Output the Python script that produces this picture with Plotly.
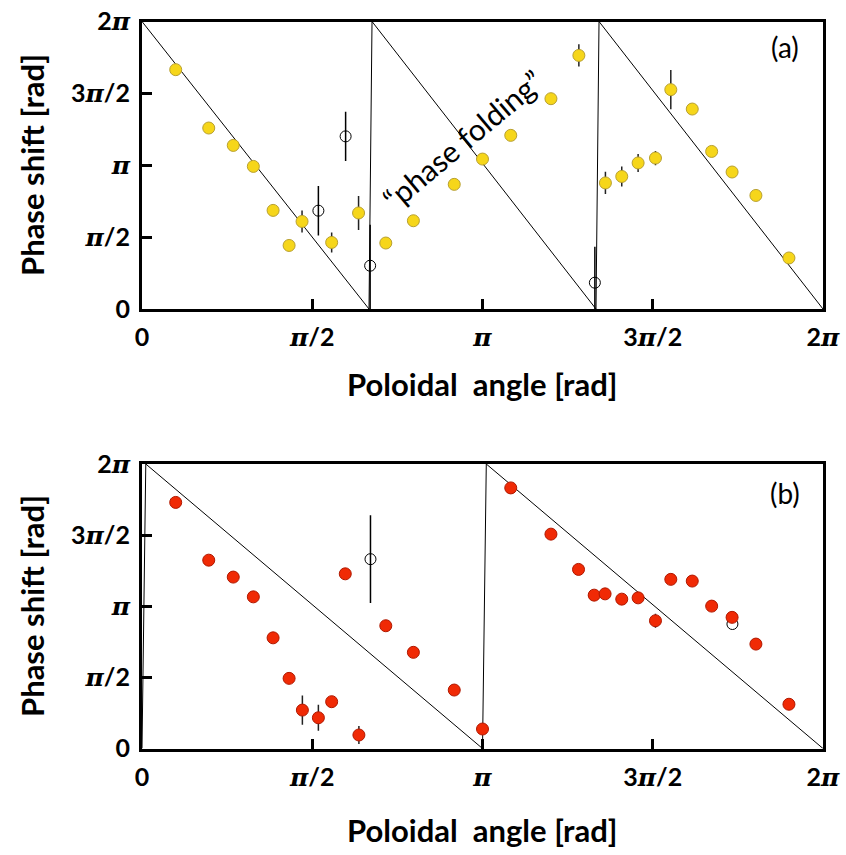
import numpy as np
import plotly.graph_objects as go

PI = np.pi

# ---------------- data (angles in units of pi) ----------------
# Panel (a): filled (yellow) points
a_theta = [0.099, 0.196, 0.268, 0.327, 0.385, 0.432, 0.470, 0.557, 0.636, 0.716,
           0.797, 0.917, 1.000, 1.083, 1.201, 1.283, 1.361, 1.409, 1.457, 1.508,
           1.553, 1.616, 1.673, 1.733, 1.803, 1.900]
a_phase = [1.665, 1.259, 1.138, 0.992, 0.686, 0.442, 0.609, 0.463, 0.668, 0.459,
           0.614, 0.867, 1.043, 1.208, 1.463, 1.764, 0.877, 0.922, 1.016, 1.050,
           1.526, 1.391, 1.096, 0.953, 0.790, 0.355]
a_err = [0, 0, 0, 0, 0, 0, 0.077, 0.070, 0.118, 0,
         0, 0, 0, 0, 0, 0.077, 0.077, 0.070, 0.063, 0.050,
         0.137, 0, 0, 0, 0, 0]
# Panel (a): open points
a_open_theta = [0.518, 0.598, 0.670, 1.330]
a_open_phase = [0.684, 1.201, 0.301, 0.183]
a_open_err_plus = [0.172, 0.172, 0.285, 0.250]
a_open_err_minus = [0.172, 0.172, 0.301, 0.183]

# Panel (b): filled (red) points
b_theta = [0.099, 0.196, 0.268, 0.327, 0.385, 0.432, 0.471, 0.518, 0.557, 0.597,
           0.637, 0.716, 0.797, 0.917, 1.000, 1.083, 1.201, 1.282, 1.328, 1.360,
           1.409, 1.457, 1.508, 1.553, 1.616, 1.673, 1.733, 1.803, 1.900]
b_phase = [1.730, 1.324, 1.205, 1.066, 0.778, 0.493, 0.270, 0.216, 0.329, 1.228,
           0.095, 0.863, 0.676, 0.411, 0.137, 1.832, 1.507, 1.259, 1.078, 1.087,
           1.050, 1.059, 0.898, 1.189, 1.177, 1.001, 0.922, 0.734, 0.311]
b_err = [0, 0, 0, 0, 0, 0, 0.103, 0.091, 0, 0,
         0.063, 0, 0, 0, 0, 0, 0, 0, 0, 0,
         0, 0, 0.050, 0, 0, 0, 0, 0, 0]
# Panel (b): open points
b_open_theta = [0.671, 1.734]
b_open_phase = [1.331, 0.875]
b_open_err = [0.309, 0]

# Model sawtooth: phase = (-m * theta) mod 2pi
m_a = 3
m_b = 2
tick_vals_pi = [0, 0.5, 1, 1.5, 2]
PI_HTML = "<span style='font-family:DejaVu Serif;font-style:italic;font-weight:bold'>π</span>"
tick_text = ["0", PI_HTML + "/2", PI_HTML, "3" + PI_HTML + "/2", "2" + PI_HTML]


def sawtooth(m, eps, start_jump):
    xs, ys = [], []
    if start_jump:
        xs += [0.0]
        ys += [0.0]
    for k in range(m):
        x0 = k * 2 * PI / m + (eps if (k > 0 or start_jump) else 0.0)
        x1 = (k + 1) * 2 * PI / m
        xs += [x0, x1]
        ys += [2 * PI, 0.0]
    return xs, ys


fig = go.Figure()

def add_panel(row_suffix, theta, phase, err, color, edge, open_t, open_p, open_ep, open_em,
              m, eps, start_jump):
    xa = "x" + row_suffix
    ya = "y" + row_suffix
    lx, ly = sawtooth(m, eps, start_jump)
    fig.add_trace(go.Scatter(x=lx, y=ly, mode="lines", line=dict(color="black", width=1),
                             xaxis=xa, yaxis=ya, showlegend=False, hoverinfo="skip"))
    fig.add_trace(go.Scatter(
        x=[t * PI for t in open_t], y=[p * PI for p in open_p], mode="markers",
        marker=dict(symbol="circle-open", size=11, color="black", line=dict(width=1)),
        error_y=dict(type="data", array=[e * PI for e in open_ep],
                     arrayminus=[e * PI for e in open_em], color="black",
                     thickness=1.5, width=0),
        xaxis=xa, yaxis=ya, showlegend=False, cliponaxis=False))
    fig.add_trace(go.Scatter(
        x=[t * PI for t in theta], y=[p * PI for p in phase], mode="markers",
        marker=dict(symbol="circle", size=12, color=color, line=dict(color=edge, width=1)),
        error_y=dict(type="data", array=[e * PI for e in err], color="#222222",
                     thickness=1.5, width=0),
        xaxis=xa, yaxis=ya, showlegend=False, cliponaxis=False))


add_panel("", a_theta, a_phase, a_err, "#F6D61A", "#B8A030",
          a_open_theta, a_open_phase, a_open_err_plus, a_open_err_minus, m_a, 0.028, False)
add_panel("2", b_theta, b_phase, b_err, "#F02A05", "#B01800",
          b_open_theta, b_open_phase, b_open_err, b_open_err, m_b, 0.035, True)

W, H = 846, 855
xdom = [142 / W, 823 / W]
ydom_a = [1 - 309 / H, 1 - 21.5 / H]
ydom_b = [1 - 748.5 / H, 1 - 464 / H]

axis_common = dict(range=[0, 2 * PI], tickvals=[v * PI for v in tick_vals_pi], ticktext=tick_text,
                   ticks="inside", ticklen=10, tickwidth=3, tickcolor="black",
                   showline=True, linewidth=3, linecolor="black", mirror=True,
                   showgrid=False, zeroline=False, automargin=False,
                   tickfont=dict(family="Lato", size=25, color="black", weight="bold"))

fig.update_layout(
    width=W, height=H, margin=dict(l=0, r=0, t=0, b=0),
    paper_bgcolor="white", plot_bgcolor="white",
    xaxis=dict(domain=xdom, anchor="y", ticklabelstandoff=4, **axis_common),
    yaxis=dict(domain=ydom_a, anchor="x", ticklabelstandoff=4, **axis_common),
    xaxis2=dict(domain=xdom, anchor="y2", ticklabelstandoff=4, **axis_common),
    yaxis2=dict(domain=ydom_b, anchor="x2", ticklabelstandoff=4, **axis_common),
)

title_font = dict(family="Lato", size=31, color="black", weight="bold")
ann = [
    dict(text="Poloidal&nbsp; angle [rad]", x=482 / W, y=1 - 384 / H),
    dict(text="Poloidal&nbsp; angle [rad]", x=482 / W, y=1 - 830 / H),
    dict(text="Phase shift [rad]", x=32 / W, y=1 - 165 / H, textangle=-90),
    dict(text="Phase shift [rad]", x=32 / W, y=1 - 606 / H, textangle=-90),
]
for a in ann:
    fig.add_annotation(xref="paper", yref="paper", showarrow=False, font=title_font,
                       xanchor="center", yanchor="middle", **a)

label_font = dict(family="Lato", size=28, color="black")
fig.add_annotation(xref="paper", yref="paper", x=785 / W, y=1 - 47 / H, text="(a)",
                   showarrow=False, font=label_font, xanchor="center", yanchor="middle")
fig.add_annotation(xref="paper", yref="paper", x=785 / W, y=1 - 493 / H, text="(b)",
                   showarrow=False, font=label_font, xanchor="center", yanchor="middle")
fig.add_annotation(xref="paper", yref="paper", x=462 / W, y=1 - 140 / H,
                   text="\u201cphase folding\u201d", textangle=-40, showarrow=False,
                   font=dict(family="Lato", size=30, color="black"),
                   xanchor="center", yanchor="middle")

fig.write_html("out.html")
